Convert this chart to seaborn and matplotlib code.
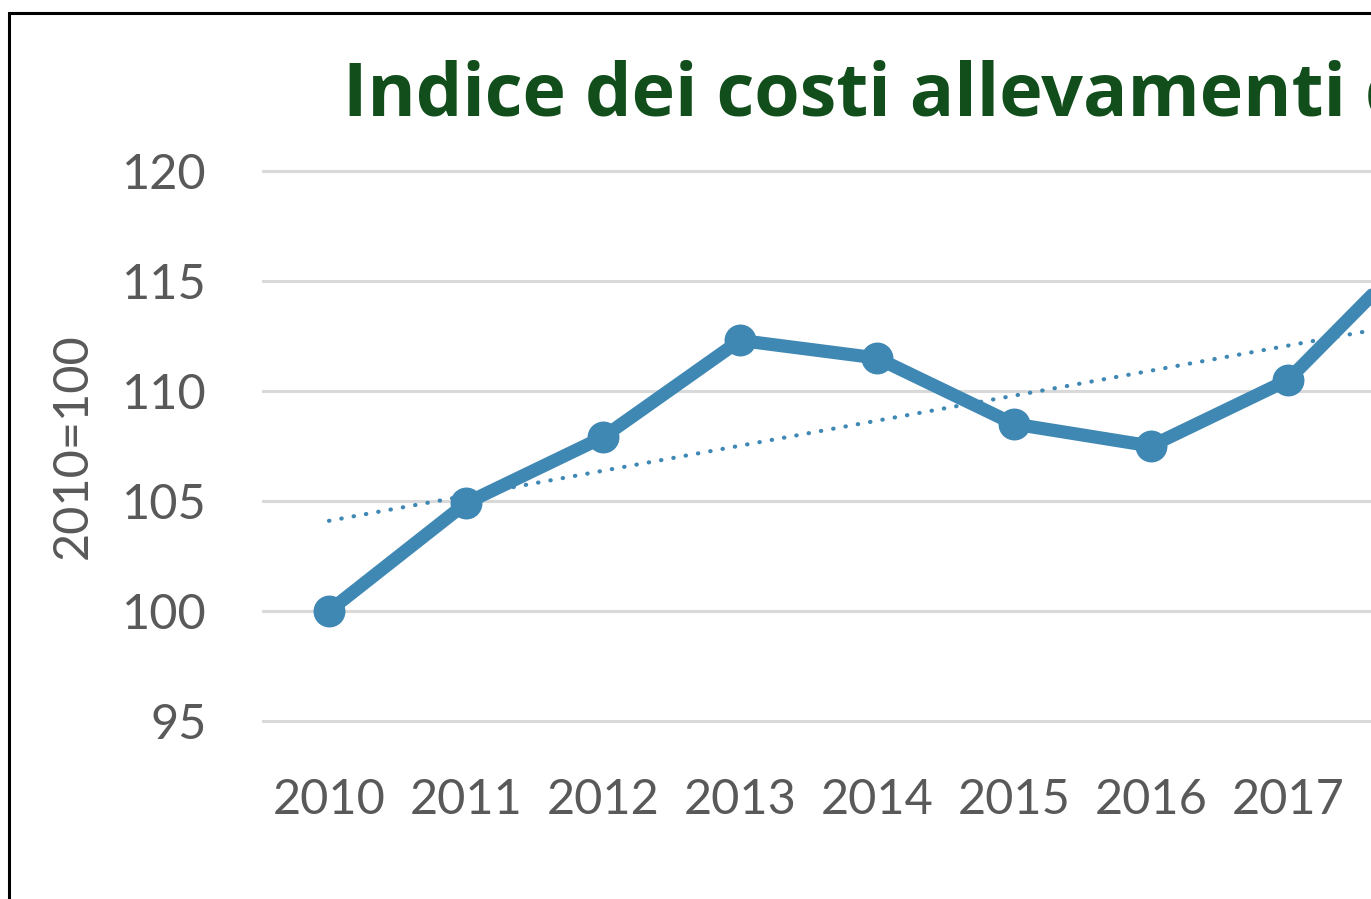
import matplotlib
matplotlib.use("Agg")
import matplotlib.pyplot as plt
from matplotlib.patches import Rectangle
import seaborn as sns
import pandas as pd

# Cost index for livestock farms, base 2010 = 100
years = [2010, 2011, 2012, 2013, 2014, 2015, 2016, 2017, 2018]
index_values = [100.0, 104.9, 107.9, 112.3, 111.5, 108.5, 107.5, 110.5, 116.8]

# Linear trend endpoints
trend_years = [2010, 2018]
trend_values = [104.1, 113.2]

title_text = "Indice dei costi allevamenti da latte"
ylabel_text = "2010=100"
yticks = [95, 100, 105, 110, 115, 120]

sns.set_style("white")
plt.rcParams["font.family"] = ["Lato", "DejaVu Sans"]

W, H = 1371, 899
fig = plt.figure(figsize=(W / 100, H / 100), dpi=100)

# Plot area runs off the right edge of the canvas
left_px, right_px = 262, 1632
top_px, bottom_px = 149, 743
ax = fig.add_axes([left_px / W, 1 - bottom_px / H,
                   (right_px - left_px) / W, (bottom_px - top_px) / H])

blue = "#3F88B4"
df = pd.DataFrame({"year": years, "value": index_values})
tr = pd.DataFrame({"year": trend_years, "value": trend_values})

sns.lineplot(data=tr, x="year", y="value", ax=ax, color=blue, lw=3.0,
             linestyle=(0, (0.1, 2.9)), dash_capstyle="round", zorder=2)
sns.lineplot(data=df, x="year", y="value", ax=ax, color=blue, lw=9.5,
             marker="o", markersize=23, markeredgewidth=0,
             solid_joinstyle="round", zorder=3)

ax.set_xlim(2009.511, 2019.511)
ax.set_ylim(94, 121)
ax.set_yticks(yticks)
ax.set_xticks(years)
ax.set_xticklabels([str(y) for y in years])
ax.set_xlabel("")
ax.set_ylabel("")
ax.grid(axis="y", color="#D9D9D9", lw=2.2)
ax.grid(axis="x", visible=False)
ax.set_axisbelow(True)
for s in ax.spines.values():
    s.set_visible(False)
ax.tick_params(axis="both", length=0, labelsize=35, labelcolor="#595959")
ax.tick_params(axis="y", pad=40)
ax.tick_params(axis="x", pad=25)

fig.text(73 / W, 1 - 446 / H, ylabel_text, rotation=90, ha="center",
         va="center", fontsize=35, color="#595959")
fig.text(343 / W, 1 - 115 / H, title_text, ha="left", va="baseline",
         fontsize=53, fontweight="bold", color="#114E1C",
         family=["Open Sans", "DejaVu Sans"])

# Outer chart frame
fig.patches.append(Rectangle((8.5 / W, -0.1), 1.2, 1.1 - 12.5 / H,
                             transform=fig.transFigure, fill=False,
                             edgecolor="black", lw=2.2))

fig.savefig("out.png", dpi=100)
